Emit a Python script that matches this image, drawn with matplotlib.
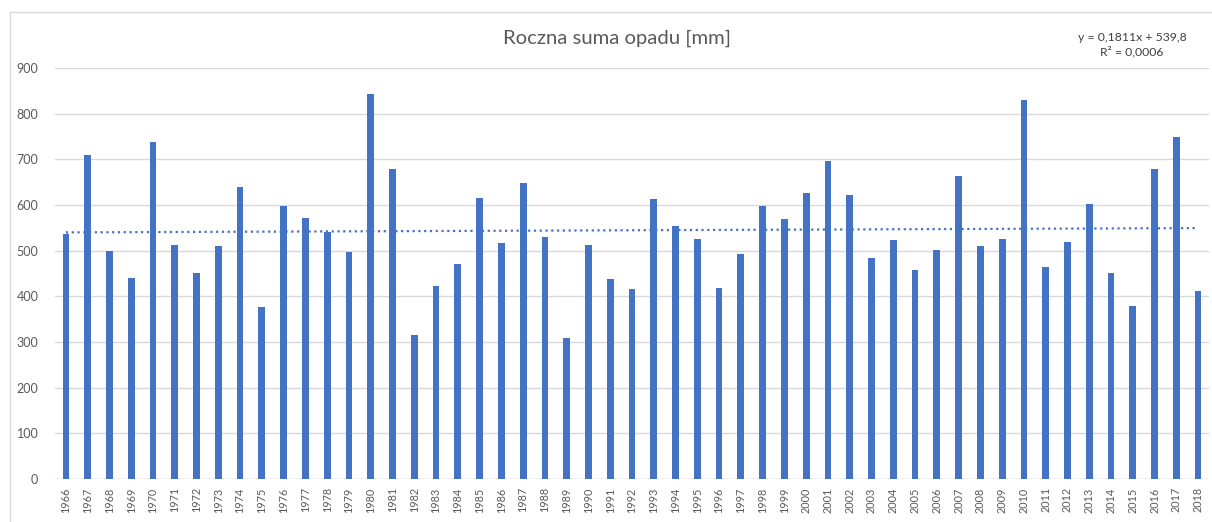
import matplotlib
matplotlib.use("Agg")
import matplotlib.pyplot as plt
import numpy as np
from matplotlib.lines import Line2D

years = list(range(1966, 2019))
values = [536, 710, 500, 440, 737, 512, 452, 511, 639, 376,
          598, 572, 540, 498, 842, 678, 315, 422, 470, 615,
          516, 649, 529, 309, 512, 437, 417, 613, 554, 525,
          419, 493, 597, 570, 626, 697, 621, 483, 524, 457,
          501, 664, 511, 525, 830, 465, 519, 602, 452, 378,
          678, 750, 411]
trend_slope = 0.1811
trend_intercept = 539.8
title = "Roczna suma opadu [mm]"
eq_text = "y = 0,1811x + 539,8\nR² = 0,0006"
yticks = [0, 100, 200, 300, 400, 500, 600, 700, 800, 900]

plt.rcParams['font.family'] = ['Lato', 'DejaVu Sans']
W, H = 1212, 522
fig = plt.figure(figsize=(W / 100, H / 100), dpi=100)
fig.patch.set_facecolor('white')

ax = fig.add_axes([55 / W, 1 - 479 / H, (1209 - 55) / W, (479 - 68) / H])
x = np.arange(len(years))
ax.bar(x, values, width=0.31, color='#4472C4', zorder=3)

tx = np.arange(len(years))
ty = trend_intercept + trend_slope * (tx + 1)
ax.plot(tx, ty, linestyle=(0, (1, 1.6)), color='#4472C4', linewidth=1.6, zorder=4)

ax.set_xlim(-0.5, len(years) - 0.5)
ax.set_ylim(0, 900)
ax.set_yticks(yticks)
ax.set_yticklabels([str(v) for v in yticks], fontsize=9, color='#595959')
ax.set_xticks(x)
ax.set_xticklabels([str(y) for y in years], rotation=90, fontsize=7.8, color='#595959')
ax.tick_params(axis='both', length=0)
ax.tick_params(axis='y', pad=12)
ax.tick_params(axis='x', pad=6)
ax.grid(axis='y', color='#D9D9D9', linewidth=1.0, zorder=0)
for s in ax.spines.values():
    s.set_visible(False)
ax.axhline(0, color='#D9D9D9', linewidth=1.0, zorder=2)

fig.text(617 / W, 1 - 38 / H, title, ha='center', va='center', fontsize=14.6, color='#595959')
fig.text(1132 / W, 1 - 45 / H, eq_text, ha='center', va='center', fontsize=8.8, color='#404040',
         linespacing=1.3)

# outer chart border
fig.add_artist(Line2D([10 / W, 10 / W], [0, 1 - 12 / H], color='#D9D9D9', linewidth=1.0))
fig.add_artist(Line2D([10 / W, 1], [1 - 12 / H, 1 - 12 / H], color='#D9D9D9', linewidth=1.0))

fig.savefig('out.png', dpi=100)
